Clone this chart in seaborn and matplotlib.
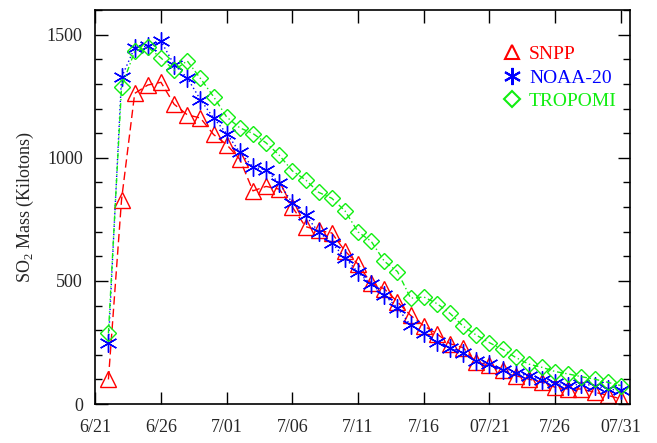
import numpy as np
import pandas as pd
import matplotlib
matplotlib.use('Agg')
import matplotlib.pyplot as plt
from matplotlib.lines import Line2D
from matplotlib.ticker import MultipleLocator
import seaborn as sns

# days since 6/21 (6/22 .. 7/31)
days = list(range(1, 41))

snpp = [100, 830, 1262, 1296, 1307, 1218, 1175, 1162, 1095, 1054,
        994, 866, 884, 873, 800, 721, 705, 695, 622, 568,
        490, 468, 415, 360, 318, 285, 245, 229, 169, 159,
        138, 115, 101, 88, 68, 61, 61, 48, 35, 21]
noaa20 = [246, 1327, 1448, 1454, 1474, 1379, 1325, 1237, 1162, 1099,
          1023, 963, 951, 897, 817, 766, 699, 655, 594, 535,
          486, 443, 390, 320, 289, 252, 226, 209, 173, 162,
          140, 124, 115, 97, 84, 75, 81, 75, 61, 55]
tropomi = [287, 1288, 1433, 1450, 1406, 1356, 1394, 1323, 1249, 1166,
           1122, 1099, 1061, 1011, 947, 911, 860, 836, 785, 699,
           661, 580, 538, 430, 435, 408, 368, 316, 280, 249,
           222, 189, 162, 149, 132, 122, 111, 101, 88, 75]

tick_days = [0, 5, 10, 15, 20, 25, 30, 35, 40]
tick_labels = ['6/21', '6/26', '7/01', '7/06', '7/11', '7/16', '07/21', '7/26', '07/31']

sns.set_style('ticks')
plt.rcParams['font.family'] = ['Liberation Serif', 'DejaVu Serif']
plt.rcParams['mathtext.fontset'] = 'custom'
plt.rcParams['mathtext.rm'] = 'Liberation Serif'

fig = plt.figure(figsize=(6.57, 4.43), dpi=100)
ax = fig.add_axes([0.145, 0.088, 0.814, 0.889])

series = [
    ('SNPP', snpp, '#ff0000', '^', (0, (6, 3)), 11),
    ('NOAA-20', noaa20, '#0000ff', (6, 2, 0), (0, (1, 2)), 13),
    ('TROPOMI', tropomi, '#11ee11', 'D', (0, (4, 2, 1, 2)), 8.5),
]

handles = []
for name, vals, col, mk, ls, ms in series:
    df = pd.DataFrame({'day': days, 'mass': vals})
    sns.lineplot(data=df, x='day', y='mass', ax=ax, color=col, linestyle=ls,
                 linewidth=1, marker=mk, markersize=ms, markerfacecolor='none',
                 markeredgecolor=col, markeredgewidth=1, clip_on=True)
    handles.append(Line2D([], [], linestyle='none', marker=mk, markersize=ms * 0.95,
                          markerfacecolor='none', markeredgecolor=col,
                          markeredgewidth=1.5, label=name))

ax.set_xlim(0, 40.7)
ax.set_ylim(0, 1600)
ax.set_xticks(tick_days)
ax.set_xticklabels(tick_labels)
ax.set_yticks([0, 500, 1000, 1500])
ax.yaxis.set_minor_locator(MultipleLocator(100))
ax.tick_params(which='both', direction='in', top=True, right=True, labelsize=13,
               width=1, color='black')
ax.tick_params(which='major', length=9)
ax.tick_params(axis='y', which='major', pad=9)
ax.tick_params(axis='x', which='major', pad=11)
ax.tick_params(which='minor', length=5)
ax.set_xlabel('')
ax.set_ylabel('SO$_2$ Mass (Kilotons)', fontsize=13, labelpad=8)
for sp in ax.spines.values():
    sp.set_linewidth(1.2)
    sp.set_color('black')

leg = ax.legend(handles=handles, loc='upper right', bbox_to_anchor=(0.99, 0.93),
                frameon=False, fontsize=14, handlelength=0.8, handletextpad=0.5,
                labelspacing=0.3, borderaxespad=0)
for txt, (_, _, col, _, _, _) in zip(leg.get_texts(), series):
    txt.set_color(col)

fig.savefig('out.png', dpi=100)
